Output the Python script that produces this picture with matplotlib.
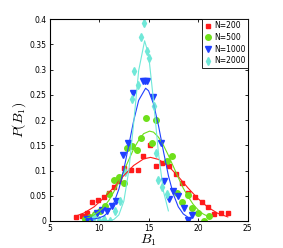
import matplotlib
matplotlib.use("Agg")
import matplotlib.pyplot as plt

plt.rcParams["mathtext.fontset"] = "cm"
plt.rcParams["font.family"] = "DejaVu Sans"

# scatter data
red_x = [7.7, 8.3, 8.8, 9.3, 9.9, 10.5, 11.0, 11.5, 12.0, 12.5, 13.2, 13.9, 14.4, 15.1, 15.8,
         16.4, 17.1, 17.8, 18.4, 19.0, 19.7, 20.4, 21.0, 21.6, 22.3, 23.0]
red_y = [0.007, 0.009, 0.016, 0.037, 0.041, 0.048, 0.055, 0.067, 0.080, 0.104, 0.101, 0.101, 0.128, 0.150, 0.109,
         0.115, 0.109, 0.094, 0.076, 0.055, 0.047, 0.038, 0.027, 0.013, 0.016, 0.016]

green_x = [8.6, 9.1, 9.6, 10.1, 10.6, 11.0, 11.5, 12.0, 12.5, 12.8, 13.3, 13.8, 14.2, 14.7, 15.3, 15.8,
           16.9, 17.4, 17.9, 18.4, 19.0, 19.4, 20.0, 20.6, 21.1]
green_y = [0.004, 0.008, 0.013, 0.019, 0.030, 0.054, 0.081, 0.087, 0.076, 0.144, 0.149, 0.140, 0.164, 0.204, 0.154, 0.200,
           0.118, 0.128, 0.055, 0.038, 0.051, 0.025, 0.015, 0.000, 0.009]

blue_x = [8.8, 9.3, 9.8, 10.3, 10.8, 11.3, 11.7, 12.4, 12.9, 13.4, 14.4, 14.6, 14.8, 15.4, 16.3, 16.6,
          17.1, 17.5, 18.0, 18.6, 19.0, 19.4]
blue_y = [0.004, 0.003, 0.015, 0.022, 0.020, 0.030, 0.040, 0.131, 0.155, 0.254, 0.277, 0.277, 0.277, 0.246, 0.154, 0.079,
          0.043, 0.059, 0.050, 0.025, 0.001, 0.012]

cyan_x = [9.5, 10.0, 10.5, 11.1, 11.6, 12.1, 12.6, 13.3, 13.5, 13.9, 14.2, 14.5, 14.8, 15.0, 15.5, 15.7,
          16.0, 16.4, 16.9]
cyan_y = [0.008, 0.002, 0.003, 0.000, 0.020, 0.040, 0.098, 0.242, 0.297, 0.270, 0.364, 0.392, 0.336, 0.323, 0.228, 0.135,
          0.081, 0.068, 0.054]

# fitted curves
red_cx = [7.7, 8.5, 9.5, 10.5, 11.5, 12.5, 13.5, 14.5, 15.2, 16.0, 17.0, 18.0, 19.0, 20.0, 21.0, 22.0, 23.0]
red_cy = [0.010, 0.016, 0.028, 0.046, 0.067, 0.090, 0.110, 0.123, 0.126, 0.122, 0.109, 0.088, 0.065, 0.044, 0.027,
          0.015, 0.008]

green_cx = [8.5, 9.0, 9.5, 10.0, 10.5, 11.0, 11.5, 12.0, 12.5, 13.0, 13.5, 14.0, 14.5, 15.1, 15.5, 16.0, 16.5,
            17.0, 17.5, 18.0, 18.5, 19.0, 19.5, 20.0, 20.5, 21.0]
green_cy = [0.004, 0.007, 0.012, 0.019, 0.028, 0.041, 0.058, 0.077, 0.099, 0.121, 0.143, 0.160, 0.173, 0.178, 0.176,
            0.166, 0.150, 0.130, 0.108, 0.086, 0.065, 0.048, 0.033, 0.022, 0.014, 0.009]

blue_cx = [8.7, 9.5, 10.0, 10.5, 11.0, 11.5, 12.0, 12.5, 13.0, 13.5, 14.0, 14.7, 15.0, 15.5, 16.0, 16.5, 17.0,
           17.5, 18.0, 18.5, 19.0, 19.2]
blue_cy = [0.005, 0.004, 0.006, 0.010, 0.019, 0.036, 0.063, 0.102, 0.150, 0.199, 0.239, 0.263, 0.258, 0.232, 0.189,
           0.138, 0.090, 0.053, 0.028, 0.014, 0.007, 0.005]

cyan_cx = [10.0, 10.5, 11.0, 11.5, 12.0, 12.5, 13.0, 13.5, 14.0, 14.6, 15.0, 15.5, 16.0, 16.5, 17.0]
cyan_cy = [0.000, 0.000, 0.001, 0.003, 0.012, 0.039, 0.099, 0.195, 0.298, 0.357, 0.330, 0.238, 0.134, 0.059, 0.020]

labels = ["N=200", "N=500", "N=1000", "N=2000"]
colors = ["#ff1a1a", "#6ee01a", "#2040ff", "#70e8d8"]
markers = ["s", "o", "v", "d"]
sizes = [3.2, 4.0, 4.2, 3.8]

fig = plt.figure(figsize=(2.83, 2.48), dpi=100)
ax = fig.add_axes([0.175, 0.109, 0.700, 0.814])

series = [(red_x, red_y, red_cx, red_cy), (green_x, green_y, green_cx, green_cy),
          (blue_x, blue_y, blue_cx, blue_cy), (cyan_x, cyan_y, cyan_cx, cyan_cy)]

for (sx, sy, cx, cy), lab, col, mk, ms in zip(series, labels, colors, markers, sizes):
    ax.plot(sx, sy, ls="", marker=mk, ms=ms, color=col, mec=col, label=lab)
for (sx, sy, cx, cy), col in zip(series, colors):
    ax.plot(cx, cy, "-", lw=0.8, color=col)

ax.set_xlim(5, 25)
ax.set_ylim(0, 0.4)
ax.set_xticks([5, 10, 15, 20, 25])
ax.set_yticks([0, 0.05, 0.1, 0.15, 0.2, 0.25, 0.3, 0.35, 0.4])
ax.set_yticklabels(["0", "0.05", "0.1", "0.15", "0.2", "0.25", "0.3", "0.35", "0.4"])
ax.tick_params(direction="in", top=True, right=True, length=2, width=0.6, labelsize=5.5, pad=2)
for sp in ax.spines.values():
    sp.set_linewidth(0.8)

ax.set_xlabel("$B_1$", fontsize=10, labelpad=0)
ax.set_ylabel("$P(B_1)$", fontsize=10, labelpad=1)

leg = ax.legend(loc="upper right", fontsize=5.5, handlelength=1.0, handletextpad=0.3, borderpad=0.3,
                labelspacing=0.35, borderaxespad=0.0, fancybox=False, framealpha=1, numpoints=1)
leg.get_frame().set_edgecolor("black")
leg.get_frame().set_linewidth(0.6)

fig.savefig("out.png", dpi=100)
